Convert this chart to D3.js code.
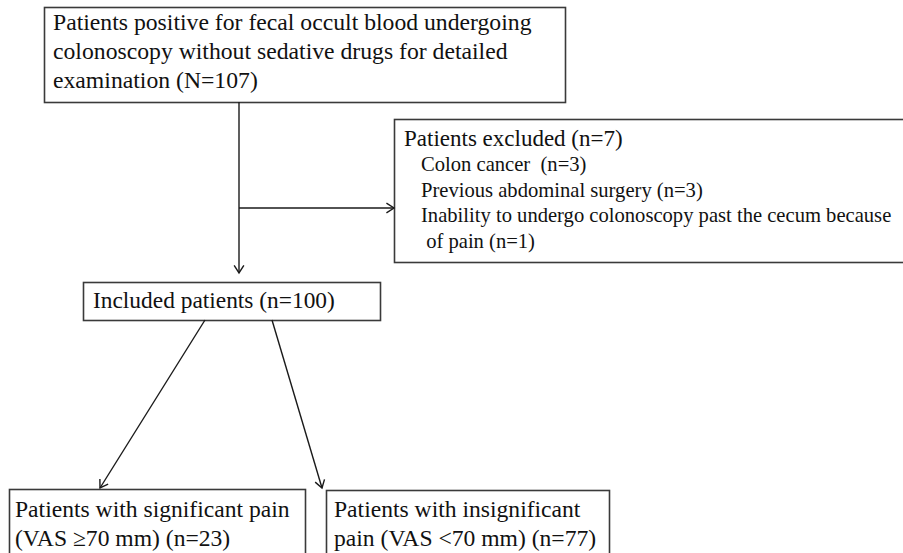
<!DOCTYPE html>
<html><head><meta charset="utf-8">
<script src="https://cdn.jsdelivr.net/npm/d3@7"></script>
<style>
html,body{margin:0;padding:0;background:#fff;}
svg{display:block;}
text{font-family:"Liberation Serif","Times New Roman",serif;fill:#111;}
</style></head>
<body>
<svg id="c" width="903" height="553"></svg>
<script>
// ---- data ----
const startLines = ["Patients positive for fecal occult blood undergoing",
  "colonoscopy without sedative drugs for detailed",
  "examination (N=107)"];
const excludedTitle = "Patients excluded (n=7)";
const excludedItems = ["Colon cancer  (n=3)", "Previous abdominal surgery (n=3)",
  "Inability to undergo colonoscopy past the cecum because", " of pain (n=1)"];
const includedLines = ["Included patients (n=100)"];
const significantLines = ["Patients with significant pain", "(VAS \u226570 mm) (n=23)"];
const insignificantLines = ["Patients with insignificant", "pain (VAS <70 mm) (n=77)"];

// ---- layout ----
const svg = d3.select("#c");
const boxStroke = "#3a3a3a", lineStroke = "#1a1a1a";

const boxes = [
  {x0:44, y0:7, x1:565, y1:102},
  {x0:394, y0:119, x1:910, y1:262},
  {x0:83, y0:282, x1:380, y1:320},
  {x0:9, y0:489, x1:305, y1:560},
  {x0:326, y0:490, x1:609, y1:560}
];
svg.selectAll("rect.box").data(boxes).enter().append("rect")
  .attr("class","box")
  .attr("x",d=>d.x0+0.5).attr("y",d=>d.y0+0.5)
  .attr("width",d=>d.x1-d.x0).attr("height",d=>d.y1-d.y0)
  .attr("fill","#fff").attr("stroke",boxStroke).attr("stroke-width",1.6);

function block(lines, x, y0, dy, size){
  svg.append("g").selectAll("text").data(lines).enter().append("text")
    .attr("x",x).attr("y",(d,i)=>y0+i*dy)
    .attr("font-size",size).attr("xml:space","preserve")
    .style("white-space","pre")
    .text(d=>d);
}
block(startLines, 53, 30, 29, 23.7);
block([excludedTitle], 404, 146, 26, 23);
block(excludedItems, 421, 171, 25.7, 20.6);
block(includedLines, 93, 308, 28, 23.4);
block(significantLines, 15, 517, 28.5, 23.6);
block(insignificantLines, 334, 517, 28.5, 23.6);

// ---- connectors ----
const arrows = [
  {x1:239, y1:102, x2:239, y2:273},
  {x1:239, y1:208, x2:394, y2:208},
  {x1:205, y1:320, x2:100, y2:488},
  {x1:272, y1:320, x2:322, y2:488}
];
const g = svg.append("g").attr("stroke",lineStroke).attr("stroke-width",1.4).attr("fill","none");
arrows.forEach(a=>{
  g.append("line").attr("x1",a.x1).attr("y1",a.y1).attr("x2",a.x2).attr("y2",a.y2);
  const ang = Math.atan2(a.y2-a.y1, a.x2-a.x1);
  const L = 9, w = Math.PI/5.5;
  const p = d3.path();
  p.moveTo(a.x2 - L*Math.cos(ang-w), a.y2 - L*Math.sin(ang-w));
  p.lineTo(a.x2, a.y2);
  p.lineTo(a.x2 - L*Math.cos(ang+w), a.y2 - L*Math.sin(ang+w));
  g.append("path").attr("d",p.toString());
});
</script>
</body></html>
